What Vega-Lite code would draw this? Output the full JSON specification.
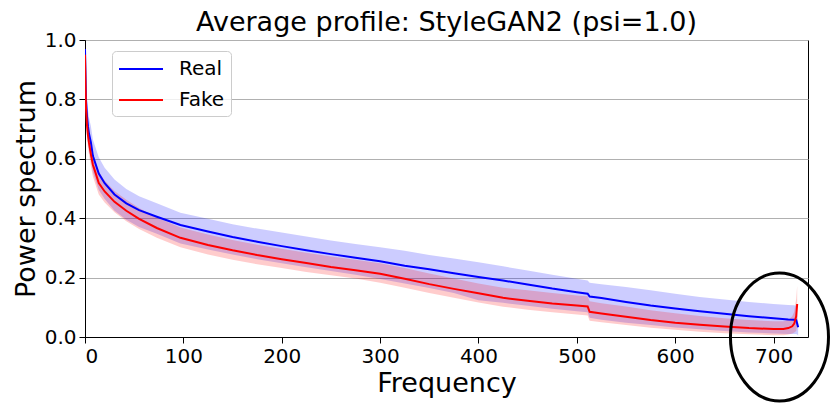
{
  "$schema": "https://vega.github.io/schema/vega-lite/v6.json",
  "autosize": "none",
  "width": 723,
  "height": 297,
  "padding": {"left": 85, "top": 40, "right": 22, "bottom": 74},
  "background": "white",
  "title": {"text": "Average profile: StyleGAN2 (psi=1.0)", "font": "DejaVu Sans", "fontSize": 27, "fontWeight": "normal", "color": "black", "anchor": "middle", "offset": -7},
  "config": {
    "view": {"stroke": "black", "strokeWidth": 1},
    "axis": {"labelFont": "DejaVu Sans", "labelFontSize": 20, "labelColor": "black", "tickColor": "black", "tickSize": 6, "domainColor": "black", "titleFont": "DejaVu Sans", "titleFontSize": 27, "titleFontWeight": "normal", "titleColor": "black", "labelPadding": 3},
    "legend": {"labelFont": "DejaVu Sans", "labelFontSize": 20, "labelColor": "black"}
  },
  "datasets": {
    "profile": [
      {"f": 0, "s": "Real", "m": 0.97, "lo": 0.93, "hi": 1.0},
      {"f": 1, "s": "Real", "m": 0.80, "lo": 0.75, "hi": 0.85},
      {"f": 2, "s": "Real", "m": 0.745, "lo": 0.69, "hi": 0.80},
      {"f": 3, "s": "Real", "m": 0.71, "lo": 0.655, "hi": 0.765},
      {"f": 4, "s": "Real", "m": 0.685, "lo": 0.63, "hi": 0.74},
      {"f": 6, "s": "Real", "m": 0.655, "lo": 0.60, "hi": 0.71},
      {"f": 8, "s": "Real", "m": 0.61, "lo": 0.555, "hi": 0.665},
      {"f": 10, "s": "Real", "m": 0.59, "lo": 0.535, "hi": 0.645},
      {"f": 14, "s": "Real", "m": 0.55, "lo": 0.495, "hi": 0.605},
      {"f": 20, "s": "Real", "m": 0.518, "lo": 0.465, "hi": 0.57},
      {"f": 30, "s": "Real", "m": 0.48, "lo": 0.425, "hi": 0.53},
      {"f": 42, "s": "Real", "m": 0.45, "lo": 0.395, "hi": 0.498},
      {"f": 55, "s": "Real", "m": 0.427, "lo": 0.37, "hi": 0.474},
      {"f": 73, "s": "Real", "m": 0.405, "lo": 0.348, "hi": 0.45},
      {"f": 97, "s": "Real", "m": 0.377, "lo": 0.315, "hi": 0.418},
      {"f": 125, "s": "Real", "m": 0.355, "lo": 0.295, "hi": 0.398},
      {"f": 150, "s": "Real", "m": 0.337, "lo": 0.278, "hi": 0.38},
      {"f": 175, "s": "Real", "m": 0.321, "lo": 0.262, "hi": 0.365},
      {"f": 200, "s": "Real", "m": 0.306, "lo": 0.248, "hi": 0.352},
      {"f": 225, "s": "Real", "m": 0.292, "lo": 0.235, "hi": 0.338},
      {"f": 250, "s": "Real", "m": 0.279, "lo": 0.222, "hi": 0.325},
      {"f": 275, "s": "Real", "m": 0.267, "lo": 0.21, "hi": 0.313},
      {"f": 300, "s": "Real", "m": 0.255, "lo": 0.195, "hi": 0.302},
      {"f": 325, "s": "Real", "m": 0.24, "lo": 0.18, "hi": 0.29},
      {"f": 350, "s": "Real", "m": 0.228, "lo": 0.165, "hi": 0.276},
      {"f": 375, "s": "Real", "m": 0.215, "lo": 0.148, "hi": 0.264},
      {"f": 400, "s": "Real", "m": 0.202, "lo": 0.124, "hi": 0.252},
      {"f": 425, "s": "Real", "m": 0.19, "lo": 0.115, "hi": 0.238},
      {"f": 450, "s": "Real", "m": 0.177, "lo": 0.105, "hi": 0.224},
      {"f": 475, "s": "Real", "m": 0.163, "lo": 0.095, "hi": 0.21},
      {"f": 500, "s": "Real", "m": 0.151, "lo": 0.087, "hi": 0.196},
      {"f": 511, "s": "Real", "m": 0.146, "lo": 0.083, "hi": 0.19},
      {"f": 513, "s": "Real", "m": 0.136, "lo": 0.065, "hi": 0.183},
      {"f": 525, "s": "Real", "m": 0.131, "lo": 0.058, "hi": 0.178},
      {"f": 550, "s": "Real", "m": 0.118, "lo": 0.048, "hi": 0.168},
      {"f": 575, "s": "Real", "m": 0.106, "lo": 0.04, "hi": 0.157},
      {"f": 600, "s": "Real", "m": 0.096, "lo": 0.032, "hi": 0.146},
      {"f": 625, "s": "Real", "m": 0.087, "lo": 0.026, "hi": 0.135},
      {"f": 650, "s": "Real", "m": 0.078, "lo": 0.02, "hi": 0.126},
      {"f": 675, "s": "Real", "m": 0.07, "lo": 0.015, "hi": 0.118},
      {"f": 700, "s": "Real", "m": 0.063, "lo": 0.012, "hi": 0.111},
      {"f": 715, "s": "Real", "m": 0.059, "lo": 0.01, "hi": 0.108},
      {"f": 721, "s": "Real", "m": 0.058, "lo": 0.01, "hi": 0.107},
      {"f": 723, "s": "Real", "m": 0.057, "lo": 0.01, "hi": 0.105},
      {"f": 724, "s": "Real", "m": 0.045, "lo": 0.008, "hi": 0.08},
      {"f": 725, "s": "Real", "m": 0.033, "lo": 0.005, "hi": 0.05},
      {"f": 0, "s": "Fake", "m": 0.95, "lo": 0.92, "hi": 0.99},
      {"f": 1, "s": "Fake", "m": 0.77, "lo": 0.73, "hi": 0.81},
      {"f": 2, "s": "Fake", "m": 0.715, "lo": 0.675, "hi": 0.755},
      {"f": 3, "s": "Fake", "m": 0.68, "lo": 0.64, "hi": 0.72},
      {"f": 4, "s": "Fake", "m": 0.655, "lo": 0.615, "hi": 0.695},
      {"f": 6, "s": "Fake", "m": 0.615, "lo": 0.575, "hi": 0.655},
      {"f": 8, "s": "Fake", "m": 0.58, "lo": 0.54, "hi": 0.62},
      {"f": 10, "s": "Fake", "m": 0.56, "lo": 0.52, "hi": 0.598},
      {"f": 14, "s": "Fake", "m": 0.518, "lo": 0.48, "hi": 0.556},
      {"f": 20, "s": "Fake", "m": 0.49, "lo": 0.453, "hi": 0.527},
      {"f": 30, "s": "Fake", "m": 0.455, "lo": 0.42, "hi": 0.492},
      {"f": 42, "s": "Fake", "m": 0.425, "lo": 0.39, "hi": 0.462},
      {"f": 55, "s": "Fake", "m": 0.398, "lo": 0.364, "hi": 0.434},
      {"f": 73, "s": "Fake", "m": 0.367, "lo": 0.334, "hi": 0.402},
      {"f": 97, "s": "Fake", "m": 0.334, "lo": 0.302, "hi": 0.369},
      {"f": 125, "s": "Fake", "m": 0.31, "lo": 0.278, "hi": 0.345},
      {"f": 150, "s": "Fake", "m": 0.292, "lo": 0.26, "hi": 0.327},
      {"f": 175, "s": "Fake", "m": 0.276, "lo": 0.245, "hi": 0.311},
      {"f": 200, "s": "Fake", "m": 0.262, "lo": 0.232, "hi": 0.297},
      {"f": 225, "s": "Fake", "m": 0.249, "lo": 0.219, "hi": 0.284},
      {"f": 250, "s": "Fake", "m": 0.236, "lo": 0.208, "hi": 0.271},
      {"f": 275, "s": "Fake", "m": 0.225, "lo": 0.197, "hi": 0.26},
      {"f": 300, "s": "Fake", "m": 0.213, "lo": 0.183, "hi": 0.248},
      {"f": 325, "s": "Fake", "m": 0.196, "lo": 0.166, "hi": 0.232},
      {"f": 350, "s": "Fake", "m": 0.178, "lo": 0.148, "hi": 0.214},
      {"f": 375, "s": "Fake", "m": 0.162, "lo": 0.132, "hi": 0.197},
      {"f": 400, "s": "Fake", "m": 0.147, "lo": 0.116, "hi": 0.18},
      {"f": 425, "s": "Fake", "m": 0.132, "lo": 0.102, "hi": 0.166},
      {"f": 450, "s": "Fake", "m": 0.122, "lo": 0.092, "hi": 0.157},
      {"f": 475, "s": "Fake", "m": 0.113, "lo": 0.083, "hi": 0.148},
      {"f": 500, "s": "Fake", "m": 0.106, "lo": 0.076, "hi": 0.14},
      {"f": 511, "s": "Fake", "m": 0.103, "lo": 0.072, "hi": 0.137},
      {"f": 513, "s": "Fake", "m": 0.085, "lo": 0.055, "hi": 0.12},
      {"f": 525, "s": "Fake", "m": 0.079, "lo": 0.05, "hi": 0.114},
      {"f": 550, "s": "Fake", "m": 0.068, "lo": 0.04, "hi": 0.103},
      {"f": 575, "s": "Fake", "m": 0.057, "lo": 0.031, "hi": 0.09},
      {"f": 600, "s": "Fake", "m": 0.048, "lo": 0.024, "hi": 0.08},
      {"f": 625, "s": "Fake", "m": 0.041, "lo": 0.018, "hi": 0.071},
      {"f": 650, "s": "Fake", "m": 0.035, "lo": 0.013, "hi": 0.063},
      {"f": 675, "s": "Fake", "m": 0.03, "lo": 0.009, "hi": 0.057},
      {"f": 700, "s": "Fake", "m": 0.027, "lo": 0.006, "hi": 0.053},
      {"f": 710, "s": "Fake", "m": 0.027, "lo": 0.006, "hi": 0.053},
      {"f": 715, "s": "Fake", "m": 0.03, "lo": 0.008, "hi": 0.058},
      {"f": 719, "s": "Fake", "m": 0.036, "lo": 0.012, "hi": 0.07},
      {"f": 721, "s": "Fake", "m": 0.045, "lo": 0.015, "hi": 0.085},
      {"f": 723, "s": "Fake", "m": 0.07, "lo": 0.02, "hi": 0.13},
      {"f": 724, "s": "Fake", "m": 0.111, "lo": 0.04, "hi": 0.173}
    ],
    "marker": [{"f": 706, "v": 0}]
  },
  "layer": [
    {
      "data": {"name": "profile"},
      "transform": [{"filter": "datum.s === 'Real'"}],
      "mark": {"type": "area", "opacity": 0.2, "color": "#0000ff", "clip": true},
      "encoding": {
        "x": {"field": "f", "type": "quantitative", "scale": {"domain": [0, 735], "nice": false, "zero": false},
              "axis": {"title": "Frequency", "values": [0, 100, 200, 300, 400, 500, 600, 700], "grid": false, "titlePadding": 4}},
        "y": {"field": "lo", "type": "quantitative", "scale": {"domain": [0, 1], "nice": false},
              "axis": {"title": "Power spectrum", "values": [0, 0.2, 0.4, 0.6, 0.8, 1.0], "format": ".1f", "grid": true, "gridColor": "#b0b0b0", "gridWidth": 1, "titlePadding": 4}},
        "y2": {"field": "hi"}
      }
    },
    {
      "data": {"name": "profile"},
      "transform": [{"filter": "datum.s === 'Fake'"}],
      "mark": {"type": "area", "opacity": 0.2, "color": "#ff0000", "clip": true},
      "encoding": {
        "x": {"field": "f", "type": "quantitative"},
        "y": {"field": "lo", "type": "quantitative"},
        "y2": {"field": "hi"}
      }
    },
    {
      "data": {"name": "profile"},
      "mark": {"type": "line", "strokeWidth": 2, "clip": true},
      "encoding": {
        "x": {"field": "f", "type": "quantitative"},
        "y": {"field": "m", "type": "quantitative"},
        "color": {"field": "s", "type": "nominal", "scale": {"domain": ["Real", "Fake"], "range": ["#0000ff", "#ff0000"]},
                  "legend": {"title": null, "orient": "none", "legendX": 27, "legendY": 11, "symbolType": "M-1,0L3,0", "symbolSize": 484, "symbolStrokeWidth": 2, "padding": 6, "fillColor": "rgba(255,255,255,0.8)", "strokeColor": "#cccccc", "cornerRadius": 4, "labelOffset": 37, "rowPadding": 9}}
      }
    },
    {
      "data": {"name": "marker"},
      "mark": {"type": "point", "shape": "M0.766,0C0.766,0.552,0.423,1,0,1C-0.423,1,-0.766,0.552,-0.766,0C-0.766,-0.552,-0.423,-1,0,-1C0.423,-1,0.766,-0.552,0.766,0Z", "size": 16384, "filled": false, "stroke": "black", "strokeWidth": 3, "opacity": 1},
      "encoding": {
        "x": {"field": "f", "type": "quantitative"},
        "y": {"field": "v", "type": "quantitative"}
      }
    }
  ]
}
